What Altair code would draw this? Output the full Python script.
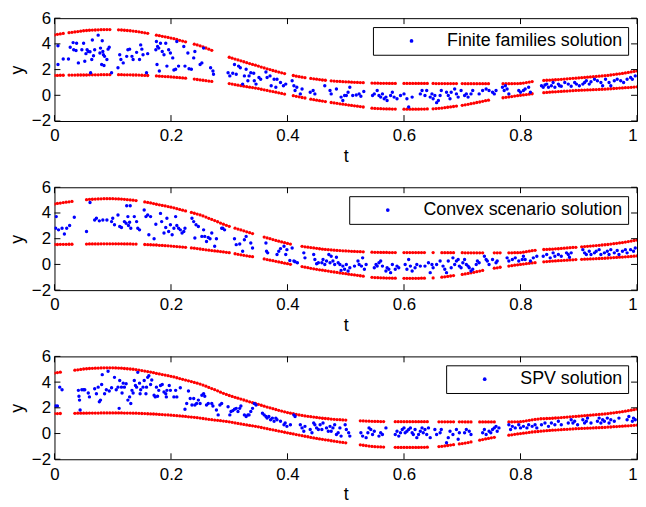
import altair as alt
import pandas as pd

# ---------------- data ----------------
T_STEP = 0.005  # bound curves are sampled every 0.005 in t (201 samples)

UPPER = [4.70,
         4.74, 4.77, 4.81, 4.84, 4.87, 4.90, 4.93, 4.96, 4.99, 5.02,
         5.04, 5.06, 5.07, 5.08, 5.09, 5.10, 5.11, 5.11, 5.11, 5.11,
         5.10, 5.09, 5.08, 5.06, 5.04, 5.02, 5.00, 4.97, 4.94, 4.90,
         4.86, 4.82, 4.78, 4.73, 4.68, 4.64, 4.59, 4.55, 4.50, 4.45,
         4.40, 4.34, 4.28, 4.22, 4.16, 4.10, 4.04, 3.98, 3.92, 3.85,
         3.77, 3.68, 3.59, 3.50, 3.41, 3.32, 3.22, 3.13, 3.04, 2.96,
         2.89, 2.82, 2.75, 2.68, 2.61, 2.54, 2.47, 2.40, 2.34, 2.27,
         2.20, 2.13, 2.06, 2.00, 1.93, 1.87, 1.81, 1.75, 1.69, 1.63,
         1.58, 1.54, 1.49, 1.45, 1.41, 1.37, 1.34, 1.31, 1.28, 1.25,
         1.22, 1.19, 1.17, 1.15, 1.13, 1.11, 1.09, 1.08, 1.06, 1.05,
         1.04, 1.02, 1.01, 1.00, 0.99, 0.98, 0.97, 0.96, 0.95, 0.94,
         0.94, 0.93, 0.93, 0.93, 0.92, 0.92, 0.92, 0.92, 0.92, 0.92,
         0.92, 0.92, 0.92, 0.92, 0.92, 0.92, 0.92, 0.92, 0.92, 0.92,
         0.91, 0.91, 0.91, 0.91, 0.91, 0.91, 0.91, 0.91, 0.91, 0.91,
         0.90, 0.90, 0.90, 0.90, 0.90, 0.90, 0.90, 0.90, 0.90, 0.90,
         0.90, 0.90, 0.90, 0.90, 0.90, 0.90, 0.90, 0.91, 0.91, 0.92,
         0.95, 0.99, 1.03, 1.07, 1.10, 1.13, 1.15, 1.16, 1.17, 1.18,
         1.19, 1.21, 1.22, 1.24, 1.26, 1.28, 1.30, 1.32, 1.33, 1.35,
         1.37, 1.39, 1.41, 1.43, 1.45, 1.47, 1.49, 1.51, 1.53, 1.55,
         1.58, 1.61, 1.64, 1.67, 1.70, 1.74, 1.78, 1.82, 1.86, 1.90]

LOWER = [1.55,
         1.55, 1.56, 1.56, 1.56, 1.57, 1.57, 1.57, 1.58, 1.58, 1.58,
         1.58, 1.59, 1.59, 1.59, 1.59, 1.60, 1.60, 1.60, 1.60, 1.60,
         1.60, 1.60, 1.60, 1.59, 1.59, 1.59, 1.58, 1.58, 1.57, 1.56,
         1.55, 1.54, 1.53, 1.52, 1.51, 1.49, 1.48, 1.46, 1.45, 1.43,
         1.41, 1.39, 1.37, 1.35, 1.33, 1.30, 1.28, 1.26, 1.23, 1.20,
         1.17, 1.14, 1.11, 1.08, 1.05, 1.03, 1.00, 0.97, 0.94, 0.91,
         0.87, 0.83, 0.79, 0.75, 0.71, 0.67, 0.63, 0.60, 0.56, 0.52,
         0.47, 0.43, 0.38, 0.33, 0.29, 0.24, 0.19, 0.15, 0.10, 0.06,
         0.01, -0.03, -0.08, -0.12, -0.17, -0.21, -0.25, -0.30, -0.34, -0.38,
         -0.42, -0.45, -0.49, -0.52, -0.56, -0.59, -0.62, -0.66, -0.69, -0.72,
         -0.76, -0.79, -0.82, -0.85, -0.88, -0.91, -0.94, -0.97, -1.00, -1.02,
         -1.03, -1.04, -1.05, -1.06, -1.06, -1.07, -1.07, -1.08, -1.08, -1.08,
         -1.08, -1.08, -1.08, -1.08, -1.08, -1.07, -1.07, -1.06, -1.06, -1.05,
         -1.03, -1.01, -0.99, -0.96, -0.93, -0.90, -0.87, -0.84, -0.81, -0.78,
         -0.74, -0.70, -0.65, -0.61, -0.56, -0.52, -0.47, -0.42, -0.38, -0.33,
         -0.29, -0.26, -0.22, -0.19, -0.16, -0.13, -0.10, -0.06, -0.03, 0.00,
         0.03, 0.06, 0.09, 0.12, 0.14, 0.16, 0.18, 0.20, 0.22, 0.24,
         0.26, 0.27, 0.29, 0.30, 0.32, 0.33, 0.35, 0.36, 0.38, 0.39,
         0.40, 0.41, 0.42, 0.43, 0.44, 0.45, 0.46, 0.47, 0.48, 0.50,
         0.51, 0.53, 0.54, 0.56, 0.57, 0.59, 0.60, 0.62, 0.64, 0.66]

# t-intervals with no samples (gaps in the red bound dots), per panel
GAPS_1 = [(0.018, 0.024), (0.098, 0.106), (0.161, 0.171), (0.228, 0.236),
          (0.274, 0.296), (0.398, 0.406), (0.431, 0.439), (0.466, 0.474),
          (0.530, 0.544), (0.589, 0.596), (0.644, 0.649), (0.691, 0.699),
          (0.749, 0.766), (0.821, 0.839)]
GAPS_2 = [(0.034, 0.053), (0.144, 0.154), (0.226, 0.234), (0.301, 0.309),
          (0.341, 0.357), (0.406, 0.421), (0.533, 0.544), (0.589, 0.597),
          (0.639, 0.646), (0.654, 0.661), (0.689, 0.696), (0.739, 0.751),
          (0.766, 0.776), (0.829, 0.837), (0.896, 0.904)]
GAPS_3 = [(0.011, 0.032), (0.504, 0.522), (0.568, 0.583), (0.644, 0.656),
          (0.686, 0.692), (0.719, 0.726), (0.757, 0.779)]

PTS_1 = [(.006, 3.85), (.006, 2.40), (.015, 2.83), (.024, 2.83), (.027, 3.74), (.032, 4.10), (.033, 3.54),
         (.037, 3.49), (.038, 4.05), (.041, 2.52), (.047, 3.54), (.050, 4.05), (.052, 2.65), (.054, 3.24),
         (.056, 3.54), (.058, 3.41), (.061, 3.39), (.062, 1.76), (.064, 2.78), (.065, 4.30), (.067, 3.08),
         (.069, 3.54), (.075, 4.68), (.078, 3.29), (.079, 3.67), (.081, 2.40), (.082, 4.25), (.083, 3.41),
         (.084, 3.16), (.085, 2.32), (.086, 3.03), (.090, 2.78), (.092, 3.59), (.094, 3.74), (.098, 1.76),
         (.109, 2.14), (.112, 3.16), (.114, 2.78), (.118, 2.52), (.124, 3.03), (.126, 3.54), (.129, 3.59),
         (.133, 3.03), (.135, 2.78), (.141, 3.34), (.146, 2.78), (.148, 3.92), (.150, 3.59), (.152, 3.16),
         (.158, 1.76), (.160, 3.24), (.174, 3.54), (.175, 4.18), (.177, 3.79), (.179, 3.67), (.176, 2.40),
         (.180, 1.89), (.182, 4.05), (.185, 3.41), (.188, 3.16), (.191, 4.05), (.193, 2.27), (.196, 3.54),
         (.199, 3.29), (.203, 2.91), (.205, 1.97), (.208, 2.02), (.210, 4.18), (.213, 2.27), (.222, 3.79),
         (.224, 2.27), (.229, 3.29), (.231, 2.07), (.235, 2.02), (.239, 2.91), (.241, 3.41), (.250, 2.40),
         (.253, 2.52), (.256, 3.67), (.268, 2.14), (.272, 1.89), (.273, 1.64), (.298, 1.76), (.301, 1.51),
         (.306, 1.71), (.309, 2.40), (.312, 1.64), (.316, 2.27), (.319, 2.14), (.323, 0.87), (.326, 1.51),
         (.329, 2.02), (.332, 1.13), (.334, 1.51), (.337, 1.76), (.342, 1.71), (.343, 1.13), (.346, 0.87),
         (.351, 1.38), (.354, 1.25), (.363, 1.81), (.365, 1.38), (.370, 1.51), (.372, 0.75), (.377, 1.25),
         (.380, 0.62), (.382, 1.25), (.388, 1.00), (.393, 0.75), (.397, 0.87), (.408, 1.13), (.411, 0.75),
         (.413, 0.37), (.416, 0.62), (.422, 0.11), (.425, 0.49), (.439, 0.24), (.444, 0.37), (.447, 0.11),
         (.464, 0.75), (.473, 0.37), (.475, 0.11), (.484, 0.49), (.492, -0.14), (.495, -0.40), (.498, -0.02),
         (.501, -0.02), (.504, 0.24), (.507, 0.62), (.512, -0.02), (.518, 0.03), (.523, 0.11), (.526, -0.07),
         (.531, 0.29), (.546, -0.02), (.549, 0.11), (.554, 0.37), (.557, -0.02), (.560, -0.14), (.563, 0.11),
         (.566, -0.27), (.569, -0.14), (.571, -0.40), (.577, -0.02), (.580, 0.24), (.583, -0.14), (.588, -0.27),
         (.594, -0.02), (.600, 0.11), (.605, -0.27), (.608, -0.91), (.614, -0.14), (.628, 0.11), (.631, 0.37),
         (.636, -0.02), (.639, 0.37), (.645, -0.14), (.648, 0.11), (.650, -0.27), (.653, -0.02), (.656, -0.57),
         (.659, -0.40), (.662, -0.02), (.664, 0.37), (.673, 0.24), (.676, -0.02), (.679, -0.27), (.681, 0.24),
         (.687, 0.49), (.690, 0.11), (.693, -0.14), (.698, 0.37), (.704, -0.02), (.707, 0.11), (.710, -0.14),
         (.715, 0.11), (.718, 0.37), (.729, 0.11), (.735, 0.37), (.741, 0.49), (.746, 0.37), (.752, 0.24),
         (.755, 0.11), (.758, 0.37), (.769, 0.62), (.772, 0.37), (.774, 0.75), (.777, 0.49), (.780, 0.11),
         (.797, 0.37), (.800, 0.24), (.805, 0.37), (.808, 0.49), (.814, 0.62), (.817, 0.24), (.836, 0.75),
         (.839, 0.62), (.842, 0.80), (.845, 0.87), (.848, 0.62), (.853, 0.75), (.856, 1.00), (.859, 0.62),
         (.865, 0.87), (.867, 0.75), (.870, 0.70), (.876, 1.00), (.882, 0.87), (.887, 0.70), (.893, 1.00),
         (.896, 0.87), (.901, 0.75), (.907, 0.87), (.910, 1.00), (.913, 1.13), (.918, 0.87), (.921, 1.05),
         (.927, 1.25), (.932, 1.13), (.938, 1.00), (.941, 0.75), (.946, 1.25), (.952, 1.00), (.955, 0.75),
         (.961, 1.13), (.966, 1.25), (.972, 1.13), (.977, 1.00), (.983, 1.25), (.989, 1.38), (.992, 1.25),
         (.997, 1.51)]

PTS_2 = [(.003, 3.72), (.002, 2.82), (.007, 2.69), (.013, 2.82), (.017, 2.36), (.021, 2.82), (.026, 3.03),
         (.034, 3.67), (.055, 2.56), (.061, 4.82), (.069, 3.46), (.072, 3.59), (.077, 3.39), (.083, 3.46),
         (.090, 3.46), (.098, 3.33), (.100, 3.59), (.103, 3.08), (.109, 3.85), (.112, 2.95), (.115, 2.87),
         (.120, 3.33), (.123, 3.20), (.124, 4.56), (.126, 3.72), (.127, 3.03), (.129, 3.28), (.130, 4.56),
         (.131, 2.82), (.137, 3.72), (.141, 3.33), (.143, 2.82), (.146, 2.69), (.154, 4.23), (.157, 3.72),
         (.160, 3.85), (.162, 2.31), (.165, 3.72), (.171, 2.00), (.174, 3.13), (.182, 3.97), (.184, 3.33),
         (.188, 2.44), (.191, 2.87), (.193, 3.59), (.196, 2.56), (.199, 3.08), (.202, 2.31), (.205, 2.82),
         (.208, 3.72), (.210, 3.03), (.213, 2.82), (.216, 2.69), (.219, 2.44), (.222, 2.56), (.224, 2.82),
         (.236, 3.59), (.239, 3.33), (.241, 2.05), (.243, 3.08), (.247, 2.95), (.253, 2.18), (.256, 2.69),
         (.258, 2.18), (.261, 1.79), (.264, 2.10), (.267, 2.00), (.270, 2.44), (.275, 1.41), (.278, 2.00),
         (.287, 2.82), (.289, 2.82), (.292, 2.69), (.309, 2.00), (.312, 1.54), (.318, 1.59), (.323, 1.03),
         (.326, 1.92), (.329, 2.18), (.337, 1.67), (.340, 1.28), (.363, 1.67), (.364, 1.03), (.366, 0.90),
         (.382, 0.77), (.385, 1.03), (.388, 1.23), (.394, 1.41), (.397, 0.77), (.399, 1.15), (.404, 0.31),
         (.408, 1.28), (.411, 0.26), (.413, 0.21), (.417, 0.13), (.428, 0.90), (.430, 0.51), (.445, 0.77),
         (.447, 0.39), (.450, 0.05), (.453, 0.13), (.459, 0.13), (.461, 0.39), (.464, 0.00), (.467, 0.26),
         (.471, 0.77), (.473, 0.13), (.475, 0.64), (.478, 0.26), (.481, 0.00), (.484, 0.56), (.487, 0.13),
         (.490, 0.00), (.492, -0.46), (.495, -0.13), (.498, -0.38), (.501, 0.00), (.504, -0.51), (.507, -0.26),
         (.515, -0.13), (.521, 0.26), (.523, 0.00), (.527, -0.13), (.529, 0.51), (.532, -0.38), (.535, 0.00),
         (.549, -0.26), (.552, 0.00), (.554, -0.13), (.557, 0.13), (.560, 0.26), (.563, -0.13), (.569, -0.51),
         (.571, -0.26), (.574, -0.38), (.577, -0.64), (.580, 0.00), (.585, -0.38), (.588, -0.13), (.591, -0.26),
         (.602, 0.00), (.605, -0.38), (.608, 0.39), (.611, -0.13), (.614, -0.51), (.619, -0.26), (.622, 0.00),
         (.628, -0.13), (.636, -0.13), (.642, 0.13), (.645, -0.64), (.648, 0.00), (.650, -0.26), (.656, 0.00),
         (.662, 0.26), (.667, -0.13), (.670, -0.38), (.673, -0.64), (.676, 0.26), (.681, -0.26), (.684, 0.51),
         (.687, 0.00), (.690, 0.26), (.693, 0.39), (.695, -0.13), (.698, -0.26), (.701, 0.13), (.704, 0.39),
         (.707, 0.00), (.710, -0.13), (.712, -0.26), (.715, -0.51), (.718, -0.38), (.724, 0.00), (.726, 0.26),
         (.729, 0.13), (.738, 0.64), (.741, 0.39), (.743, 0.26), (.746, 0.00), (.752, 0.39), (.758, 0.13),
         (.760, 0.26), (.777, 0.51), (.780, 0.26), (.786, 0.39), (.791, 0.51), (.797, 0.26), (.803, 0.39),
         (.805, 0.64), (.808, 0.39), (.817, 0.26), (.822, 0.51), (.828, 0.64), (.839, 0.64), (.845, 0.77),
         (.851, 0.51), (.856, 0.90), (.859, 0.64), (.865, 0.77), (.870, 0.64), (.879, 0.90), (.882, 0.77),
         (.884, 0.56), (.887, 0.90), (.907, 1.15), (.910, 0.90), (.913, 0.77), (.918, 1.03), (.921, 0.77),
         (.927, 0.90), (.930, 1.03), (.935, 1.15), (.938, 0.77), (.944, 0.90), (.949, 1.03), (.952, 0.77),
         (.955, 1.15), (.961, 0.90), (.966, 1.08), (.969, 0.77), (.975, 1.03), (.980, 1.15), (.983, 0.90),
         (.989, 1.15), (.994, 1.03), (.997, 1.28)]

PTS_3 = [(.002, 2.14), (.005, 2.14), (.009, 3.61), (.013, 3.41), (.041, 3.36), (.042, 2.90), (.043, 2.60),
         (.044, 1.83), (.047, 3.41), (.050, 3.41), (.052, 3.41), (.058, 3.16), (.060, 2.85), (.069, 3.49),
         (.072, 3.10), (.075, 3.61), (.077, 2.47), (.079, 2.60), (.081, 3.82), (.082, 4.58), (.086, 3.10),
         (.089, 3.41), (.092, 4.85), (.094, 3.31), (.098, 3.56), (.103, 4.37), (.106, 3.41), (.109, 3.61),
         (.111, 1.96), (.112, 4.12), (.115, 3.61), (.116, 3.16), (.118, 3.92), (.120, 3.61), (.123, 3.87),
         (.126, 2.60), (.129, 2.85), (.131, 2.34), (.133, 3.36), (.135, 3.16), (.137, 4.12), (.139, 3.74),
         (.141, 3.61), (.143, 4.76), (.146, 3.92), (.147, 3.10), (.148, 3.41), (.152, 3.61), (.154, 4.12),
         (.157, 3.10), (.158, 3.61), (.160, 4.37), (.162, 4.50), (.165, 3.82), (.167, 4.17), (.171, 2.98),
         (.173, 2.85), (.175, 3.61), (.177, 2.90), (.179, 3.36), (.182, 3.74), (.185, 3.82), (.188, 3.23),
         (.191, 3.10), (.192, 2.85), (.193, 3.36), (.197, 3.74), (.199, 3.36), (.205, 2.85), (.208, 3.36),
         (.210, 2.85), (.216, 3.56), (.224, 1.89), (.227, 2.34), (.230, 3.31), (.233, 2.72), (.236, 2.22),
         (.239, 2.72), (.241, 2.22), (.244, 2.34), (.247, 2.60), (.250, 2.34), (.253, 2.98), (.256, 3.10),
         (.258, 2.90), (.261, 2.22), (.264, 2.34), (.270, 2.34), (.272, 2.14), (.278, 1.83), (.281, 1.45),
         (.284, 2.22), (.287, 2.34), (.298, 2.09), (.301, 1.45), (.303, 1.71), (.306, 1.78), (.309, 1.89),
         (.312, 1.96), (.315, 1.71), (.318, 1.96), (.320, 2.14), (.326, 1.45), (.329, 1.33), (.332, 1.45),
         (.334, 1.45), (.337, 1.71), (.340, 1.96), (.343, 2.34), (.346, 2.22), (.357, 1.58), (.360, 1.45),
         (.363, 1.33), (.365, 1.20), (.368, 1.33), (.371, 1.07), (.374, 1.20), (.377, 0.95), (.380, 1.20),
         (.382, 1.07), (.388, 0.95), (.394, 0.69), (.396, 0.82), (.399, 0.56), (.405, 0.69), (.411, 1.45),
         (.413, 1.33), (.422, 0.69), (.425, 0.44), (.428, 0.18), (.430, 0.56), (.439, 0.31), (.442, 0.06),
         (.445, 0.82), (.447, 0.69), (.450, 0.44), (.453, 0.31), (.456, 0.69), (.459, 0.31), (.461, 0.82),
         (.467, 0.44), (.470, 0.18), (.473, 0.56), (.475, 0.18), (.478, 0.44), (.481, 0.69), (.484, -0.07),
         (.487, 0.06), (.490, 0.44), (.492, -0.20), (.499, 0.69), (.501, 0.31), (.505, 0.06), (.507, -0.20),
         (.526, 0.06), (.529, -0.20), (.535, -0.32), (.538, 0.06), (.540, 0.44), (.543, 0.31), (.546, -0.07),
         (.549, 0.18), (.557, -0.20), (.560, 0.06), (.563, -0.07), (.569, 0.44), (.585, -0.07), (.588, 0.18),
         (.591, -0.20), (.594, 0.06), (.597, 0.31), (.600, 0.44), (.602, 0.06), (.605, 0.18), (.608, 0.31),
         (.611, 0.44), (.614, 0.06), (.616, -0.07), (.619, 0.31), (.622, -0.32), (.625, -0.07), (.628, 0.18),
         (.631, 0.44), (.633, 0.06), (.636, 0.31), (.639, -0.07), (.642, 0.44), (.645, -0.32), (.653, 0.31),
         (.656, -0.07), (.662, 0.06), (.664, 0.31), (.673, -0.71), (.676, -0.32), (.679, 0.18), (.684, -0.07),
         (.690, 0.31), (.693, -0.45), (.695, 0.06), (.704, 0.06), (.707, 0.31), (.712, 0.18), (.715, -0.07),
         (.735, 0.06), (.738, 0.31), (.741, -0.07), (.746, 0.18), (.749, 0.06), (.752, 0.31), (.755, 0.44),
         (.758, 0.56), (.760, 0.18), (.763, 0.44), (.780, 0.69), (.783, 0.31), (.786, 0.56), (.791, 0.44),
         (.797, 0.69), (.800, 0.44), (.805, 0.56), (.811, 0.44), (.814, 0.69), (.820, 0.56), (.825, 0.69),
         (.828, 0.44), (.836, 0.69), (.842, 0.82), (.848, 0.56), (.853, 0.82), (.859, 0.69), (.865, 0.95),
         (.870, 0.69), (.882, 0.82), (.887, 1.07), (.890, 0.82), (.893, 0.95), (.898, 0.69), (.907, 1.07),
         (.910, 0.82), (.913, 0.95), (.915, 1.20), (.921, 0.82), (.932, 0.95), (.935, 1.20), (.938, 0.82),
         (.941, 1.07), (.944, 0.95), (.949, 1.20), (.952, 0.82), (.955, 1.07), (.961, 0.95), (.969, 1.20),
         (.983, 1.07), (.986, 1.33), (.992, 0.95), (.994, 1.20), (.997, 1.07)]

LABELS = ["Finite families solution", "Convex scenario solution", "SPV solution"]
X_TICKS = [0, 0.2, 0.4, 0.6, 0.8, 1]
Y_TICKS = [-2, 0, 2, 4, 6]

# ---------------- chart ----------------
FONT = "Liberation Sans"
W, H = 589, 104
TICK = 6

xs = alt.Scale(domain=[0, 1], nice=False, zero=False, padding=0)
ys = alt.Scale(domain=[-2, 6], nice=False, zero=False, padding=0)
xaxis = alt.Axis(values=X_TICKS, format="~g", title="t",
                 labelAlign={"expr": "datum.value == 1 ? 'right' : 'center'"},
                 labelPadding=7, titlePadding=4)
yaxis = alt.Axis(values=Y_TICKS, format="~g", title="y",
                 labelPadding=4, titlePadding=5)


def panel(points, gaps, label):
    T = [round(i * T_STEP, 3) for i in range(len(UPPER))]
    keep = [not any(a < t < b for a, b in gaps) for t in T]
    tb = [t for t, k in zip(T, keep) if k]
    ub = [u for u, k in zip(UPPER, keep) if k]
    lb = [l for l, k in zip(LOWER, keep) if k]
    bounds = pd.DataFrame({"t": tb + tb, "y": ub + lb})
    pts = pd.DataFrame({"t": [p[0] for p in points], "y": [p[1] for p in points],
                        "series": [label] * len(points)})

    x_enc = alt.X("t:Q", scale=xs, axis=xaxis)
    y_enc = alt.Y("y:Q", scale=ys, axis=yaxis)

    red = alt.Chart(bounds).mark_circle(size=11, color="#ff0000", opacity=1, clip=True).encode(
        x=x_enc, y=y_enc)
    blue = alt.Chart(pts).mark_circle(size=12, opacity=1, clip=True).encode(
        x=x_enc, y=y_enc,
        color=alt.Color("series:N",
                        scale=alt.Scale(domain=[label], range=["#0000ff"]),
                        legend=alt.Legend(title=None, orient="top-right", offset=9,
                                          strokeColor="black", fillColor="white",
                                          padding=5, labelFont=FONT, labelFontSize=18,
                                          labelColor="black", labelLimit=500,
                                          symbolType="circle", symbolSize=14,
                                          symbolStrokeWidth=0, symbolOffset=25,
                                          labelOffset=27)))

    xt = pd.DataFrame({"t": X_TICKS})
    yt = pd.DataFrame({"y": Y_TICKS})
    rule = dict(color="black", strokeWidth=1)
    top = alt.Chart(xt).mark_rule(**rule).encode(x=x_enc, y=alt.value(0), y2=alt.value(TICK))
    bot = alt.Chart(xt).mark_rule(**rule).encode(x=x_enc, y=alt.value(H - TICK), y2=alt.value(H))
    lft = alt.Chart(yt).mark_rule(**rule).encode(y=y_enc, x=alt.value(0), x2=alt.value(TICK))
    rgt = alt.Chart(yt).mark_rule(**rule).encode(y=y_enc, x=alt.value(W - TICK), x2=alt.value(W))

    return alt.layer(red, blue, top, bot, lft, rgt).properties(width=W, height=H)


chart = alt.vconcat(
    panel(PTS_1, GAPS_1, LABELS[0]),
    panel(PTS_2, GAPS_2, LABELS[1]),
    panel(PTS_3, GAPS_3, LABELS[2]),
    spacing=67, bounds="flush",
).resolve_scale(color="independent").resolve_legend(color="independent").properties(
    padding={"top": -2.5, "left": 0, "right": 0, "bottom": 0}, background="white"
).configure_view(
    stroke="black", strokeWidth=1
).configure_axis(
    grid=False, domain=False, ticks=False, tickSize=0,
    labelFont=FONT, labelFontSize=17, labelColor="black",
    titleFont=FONT, titleFontSize=18, titleFontWeight="normal", titleColor="black",
)

chart.save("out.html", embed_options={"renderer": "svg", "actions": False})
